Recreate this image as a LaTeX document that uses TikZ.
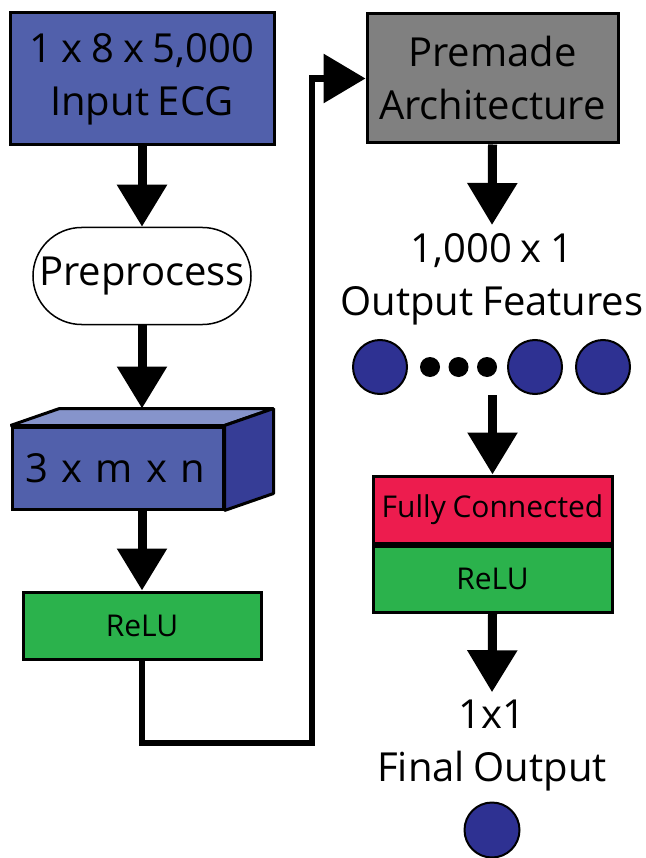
\documentclass[tikz,border=0pt]{standalone}
\usepackage{fontspec}
\setmainfont{Open Sans}
\usetikzlibrary{arrows.meta, positioning, shapes.misc, calc}

% Colours of the blocks
\definecolor{inputblue}{RGB}{81, 96, 171}
\definecolor{cubetop}{RGB}{134, 148, 203}
\definecolor{cubeside}{RGB}{54, 61, 150}
\definecolor{premadegray}{RGB}{128, 128, 128}
\definecolor{reluegreen}{RGB}{43, 178, 76}
\definecolor{fcred}{RGB}{237, 28, 78}
\definecolor{unitblue}{RGB}{46, 49, 146}

% Narrower word spaces
\newcommand\tightsp{\spaceskip=0.22em plus 0.1em minus 0.05em\relax}

\begin{document}
\begin{tikzpicture}[x=1pt, y=-1pt,
  font=\fontsize{40}{53}\selectfont\tightsp,
  box/.style={draw, line width=3pt, inner sep=0pt, align=center},
  small/.style={font=\fontsize{30}{36}\selectfont\tightsp},
  label text/.style={inner sep=0pt, inner ysep=8pt, align=center},
  face/.style={draw, line width=3pt, line join=bevel},
  flow/.style={line width=9pt, -{Triangle[width=48pt, length=42pt]}},
  link/.style={line width=6.5pt, -{Triangle[width=48pt, length=42pt]}},
  unit/.style={circle, draw, line width=2pt, fill=unitblue, minimum size=54pt, inner sep=0pt},
  dot/.style={circle, fill=black, minimum size=20pt, inner sep=0pt}]

  \useasboundingbox (0,0) rectangle (645,858);

  % Cube depth offset
  \def\dx{49}
  \def\dy{-17}

  % Left column
  \node[box, fill=inputblue, minimum width=264pt, minimum height=132pt] (input) at (142,79) {1 x 8 x 5,000\\Input ECG};
  \node[draw, line width=1.5pt, rounded rectangle, fill=white, minimum width=218pt, minimum height=97pt, inner sep=0pt] (prep) at (142,276) {Preprocess};

  % 3 x m x n block drawn as a box in oblique view
  \node[box, fill=inputblue, minimum height=82pt, text width=185pt, inner xsep=13pt, align=left] (cube) at (117.5,468) {3 x m x n};
  \coordinate (cubeback) at ($(cube.north west)+(\dx,\dy)$);
  \draw[face, fill=cubetop] (cube.north west) -- (cubeback) -- ($(cube.north east)+(\dx,\dy)$) -- (cube.north east) -- cycle;
  \draw[face, fill=cubeside] (cube.north east) -- ($(cube.north east)+(\dx,\dy)$) -- ($(cube.south east)+(\dx,\dy)$) -- (cube.south east) -- cycle;

  \node[box, small, fill=reluegreen, minimum width=238pt, minimum height=67pt] (relu) at (142,625.5) {ReLU};

  % Right column
  \node[box, fill=premadegray, minimum width=251pt, minimum height=129pt] (premade) at (492.5,78.5) {Premade\\Architecture};
  \node[label text] (feat) at (492,279) {1,000 x 1\\Output Features};

  \node[unit] (feat1) at (380,367) {};
  \node[dot] (dot1) at (430,367) {};
  \node[dot] (dot2) at (458.5,367) {};
  \node[dot] (dot3) at (487,367) {};
  \node[unit] (feat2) at (535,367) {};
  \node[unit] (feat3) at (603,367) {};

  \node[box, small, fill=fcred, minimum width=239pt, minimum height=67pt] (fc) at (492.5,509.5) {Fully Connected};
  \node[box, small, fill=reluegreen, minimum width=239pt, minimum height=66pt, anchor=north] (relu2) at (fc.south) {ReLU};

  \node[label text] (result) at (492,746) {1x1\\Final Output};
  \node[unit, minimum size=55pt] (final) at (492,830) {};

  % Connectors
  \draw[flow] (input.south) -- (prep.north);
  \draw[flow] (prep.south) -- (prep.south |- cubeback);
  \draw[flow] (relu.north |- cube.south) -- (relu.north);
  \coordinate (turn) at (312,743);
  \draw[link] (relu.south) |- (turn) |- (premade.west);
  \draw[flow] (premade.south) -- (feat.north);
  \draw[flow] (fc.north |- feat2.south) -- (fc.north);
  \draw[flow] (relu2.south) -- (result.north);

\end{tikzpicture}
\end{document}
